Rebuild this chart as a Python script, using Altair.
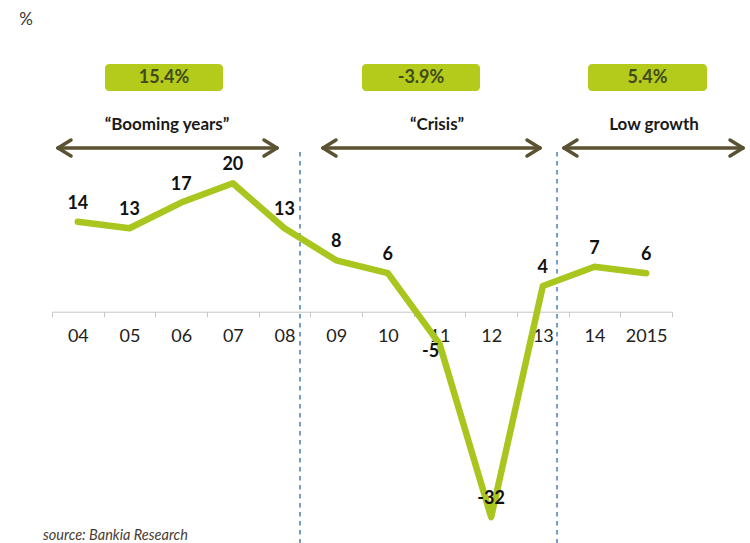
import altair as alt
import pandas as pd

# ---- chart values ----
years = ["04", "05", "06", "07", "08", "09", "10", "11", "12", "13", "14", "2015"]
growth = [14, 13, 17, 20, 13, 8, 6, -5, -32, 4, 7, 6]

period_values = ["15.4%", "-3.9%", "5.4%"]
period_names = ["\u201cBooming years\u201d", "\u201cCrisis\u201d", "Low growth"]

unit_label = "%"
source_label = "source: Bankia Research"

# ---- layout / style ----
W, H = 750, 543
PAD_L, PAD_R = 52, 78
PLOT_W = W - PAD_L - PAD_R
ZERO_Y = 311.7
PX_PER_UNIT = 6.42
y_top = ZERO_Y / PX_PER_UNIT
y_bot = -(H - ZERO_Y) / PX_PER_UNIT

FONT = "Lato"
LINE_GREEN = "#a8c61e"
BOX_GREEN = "#b4cb1b"
ARROW = "#5a5232"
DASH_BLUE = "#4a7ebb"
AXIS_GRAY = "#c6c6c6"

df = pd.DataFrame({"year": years, "growth": growth,
                   "label": [str(v) for v in growth]})

x_enc = alt.X("year:N", sort=years,
              scale=alt.Scale(paddingInner=0, paddingOuter=0),
              axis=alt.Axis(title=None, labelAngle=0, tickBand="extent",
                            offset=-(H - ZERO_Y), domainColor=AXIS_GRAY,
                            tickColor=AXIS_GRAY, tickSize=5, domainWidth=1,
                            labelFontSize=18, labelFont=FONT,
                            labelColor="#222222", labelPadding=11,
                            grid=False))
y_enc = alt.Y("growth:Q", scale=alt.Scale(domain=[y_bot, y_top], nice=False, zero=False),
              axis=None)

line = alt.Chart(df).mark_line(color=LINE_GREEN, strokeWidth=6.5,
                               strokeCap="round", strokeJoin="round").encode(x=x_enc, y=y_enc)

lab_above = alt.Chart(df).transform_filter("datum.growth != -5").mark_text(
    dy=-18, fontSize=18, fontWeight="bold", font=FONT, color="#111111", baseline="middle"
).encode(x=x_enc, y=y_enc, text="label:N")

lab_below = alt.Chart(df).transform_filter("datum.growth == -5").mark_text(
    dx=-9, dy=8, fontSize=18, fontWeight="bold", font=FONT, color="#111111", baseline="middle"
).encode(x=x_enc, y=y_enc, text="label:N")

# ---- annotations (page pixel coordinates converted to plot coordinates) ----
def px(x):
    return x - PAD_L

arrow_spans = [(58, 277), (323, 540), (564, 743)]
ARROW_Y = 148
HEAD_L, HEAD_H = 13, 8
segs = []
for x1, x2 in arrow_spans:
    segs.append((x1, ARROW_Y, x2, ARROW_Y))
    segs.append((x1, ARROW_Y, x1 + HEAD_L, ARROW_Y - HEAD_H))
    segs.append((x1, ARROW_Y, x1 + HEAD_L, ARROW_Y + HEAD_H))
    segs.append((x2, ARROW_Y, x2 - HEAD_L, ARROW_Y - HEAD_H))
    segs.append((x2, ARROW_Y, x2 - HEAD_L, ARROW_Y + HEAD_H))
seg_df = pd.DataFrame([{"x": px(a), "y": b, "x2": px(c), "y2": d} for a, b, c, d in segs])

arrows = alt.Chart(seg_df).mark_rule(color=ARROW, strokeWidth=3.5, strokeCap="round").encode(
    x=alt.X("x:Q", scale=None, axis=None), x2="x2:Q",
    y=alt.Y("y:Q", scale=None, axis=None), y2="y2:Q")

vl_df = pd.DataFrame({"x": [px(300), px(557)], "y": [152, 152], "y2": [H, H]})
vlines = alt.Chart(vl_df).mark_rule(color=DASH_BLUE, strokeWidth=1.5, strokeDash=[4.5, 4.5]).encode(
    x=alt.X("x:Q", scale=None, axis=None),
    y=alt.Y("y:Q", scale=None, axis=None), y2="y2:Q")

box_x = [(105, 223), (362, 480), (588, 707)]
box_df = pd.DataFrame({"x": [px(a) for a, b in box_x], "x2": [px(b) for a, b in box_x],
                       "y": [64] * 3, "y2": [91] * 3,
                       "cx": [px((a + b) / 2) for a, b in box_x], "cy": [78] * 3,
                       "text": period_values})
boxes = alt.Chart(box_df).mark_rect(color=BOX_GREEN, cornerRadius=4).encode(
    x=alt.X("x:Q", scale=None, axis=None), x2="x2:Q",
    y=alt.Y("y:Q", scale=None, axis=None), y2="y2:Q")
box_txt = alt.Chart(box_df).mark_text(font=FONT, fontSize=18, fontWeight="bold",
                                      color="#404a1c", baseline="middle").encode(
    x=alt.X("cx:Q", scale=None, axis=None), y=alt.Y("cy:Q", scale=None, axis=None), text="text:N")

name_df = pd.DataFrame({"cx": [px(167), px(437), px(654)], "cy": [125] * 3, "text": period_names})
names = alt.Chart(name_df).mark_text(font=FONT, fontSize=17, fontWeight="bold",
                                     color="#1a1a1a", baseline="middle").encode(
    x=alt.X("cx:Q", scale=None, axis=None), y=alt.Y("cy:Q", scale=None, axis=None), text="text:N")

unit_df = pd.DataFrame({"cx": [px(26)], "cy": [20], "text": [unit_label]})
unit = alt.Chart(unit_df).mark_text(font=FONT, fontSize=17, color="#333333", baseline="middle").encode(
    x=alt.X("cx:Q", scale=None, axis=None), y=alt.Y("cy:Q", scale=None, axis=None), text="text:N")

src_df = pd.DataFrame({"cx": [px(43)], "cy": [536], "text": [source_label]})
src = alt.Chart(src_df).mark_text(font=FONT, fontSize=14.5, fontStyle="italic", color="#4a3c33",
                                  align="left", baseline="middle").encode(
    x=alt.X("cx:Q", scale=None, axis=None), y=alt.Y("cy:Q", scale=None, axis=None), text="text:N")

chart = alt.layer(vlines, line, lab_above, lab_below, arrows, boxes, box_txt, names, unit, src).properties(
    width=PLOT_W, height=H,
    autosize=alt.AutoSizeParams(type="none"),
    padding={"left": PAD_L, "right": PAD_R, "top": 0, "bottom": 0},
    background="white",
).configure_view(stroke=None)

chart.save("out.html", embed_options={"renderer": "svg", "actions": False})
